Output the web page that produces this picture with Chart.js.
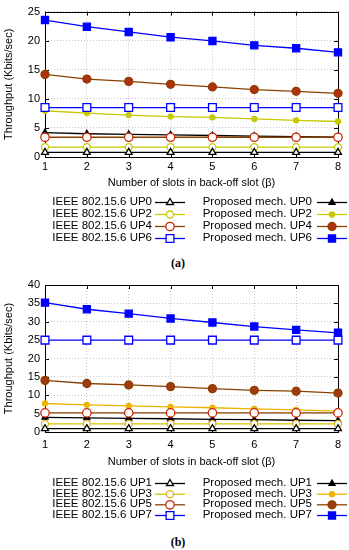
<!DOCTYPE html>
<html>
<head>
<meta charset="utf-8">
<script src="https://cdn.jsdelivr.net/npm/chart.js@4/dist/chart.umd.min.js"></script>
<style>
  body { margin: 0; background: #fff; width: 349px; height: 550px; position: relative; overflow: hidden; }
  .panel { position: absolute; left: 0; }
  .cap { position: absolute; left: 178px; transform: translate(-50%, -50%); font: bold 12px "Liberation Serif", serif; color: #000; }
</style>
</head>
<body>
<canvas id="chartA" class="panel" width="349" height="250" style="top:0"></canvas>
<div class="cap" style="top:263px">(a)</div>
<canvas id="chartB" class="panel" width="349" height="262" style="top:270px"></canvas>
<div class="cap" style="top:542px">(b)</div>

<script>
// x categories: number of slots in back-off slot
const slots = ['1', '2', '3', '4', '5', '6', '7', '8'];

// (a) even user priorities
const ieeeUP0 = [0.8, 0.8, 0.8, 0.8, 0.8, 0.8, 0.8, 0.8];
const ieeeUP2 = [1.7, 1.7, 1.7, 1.7, 1.7, 1.7, 1.7, 1.7];
const ieeeUP4 = [3.4, 3.4, 3.4, 3.4, 3.4, 3.4, 3.4, 3.4];
const ieeeUP6 = [8.5, 8.5, 8.5, 8.5, 8.5, 8.5, 8.5, 8.5];
const propUP0 = [4.2, 4.0, 3.9, 3.8, 3.7, 3.6, 3.5, 3.4];
const propUP2 = [7.95, 7.55, 7.2, 6.95, 6.8, 6.55, 6.3, 6.1];
const propUP4 = [14.2, 13.4, 13.0, 12.5, 12.05, 11.6, 11.3, 10.95];
const propUP6 = [23.55, 22.4, 21.5, 20.6, 19.95, 19.2, 18.7, 18.0];

// (b) odd user priorities
const ieeeUP1 = [0.9, 0.9, 0.9, 0.9, 0.9, 0.9, 0.9, 0.9];
const ieeeUP3 = [2.2, 2.2, 2.2, 2.2, 2.2, 2.2, 2.2, 2.2];
const ieeeUP5 = [5.2, 5.2, 5.2, 5.2, 5.2, 5.2, 5.2, 5.2];
const ieeeUP7 = [25, 25, 25, 25, 25, 25, 25, 25];
const propUP1 = [4.0, 3.85, 3.7, 3.6, 3.45, 3.35, 3.2, 3.1];
const propUP3 = [7.75, 7.4, 7.1, 6.85, 6.6, 6.3, 6.0, 5.7];
const propUP5 = [14.05, 13.2, 12.8, 12.35, 11.8, 11.35, 11.1, 10.6];
const propUP7 = [35.2, 33.4, 32.2, 30.9, 29.8, 28.7, 27.8, 27.0];

const yTicksA = { max: 25, step: 5 };
const yTicksB = { max: 40, step: 5 };

const FONT = '"Liberation Sans", Arial, sans-serif';

function series(label, data, line, mark, fill, style, r, row, col) {
    return {
        label: label,
        data: data,
        borderColor: line,
        borderWidth: 1.3,
        pointStyle: style,
        pointRadius: r,
        pointBorderColor: mark,
        pointBackgroundColor: fill,
        pointBorderWidth: 1.3,
        legendRow: row,
        legendCol: col,
        tension: 0
    };
}

// box, inward ticks and a gnuplot-like legend
const gnuplotFrame = {
    id: 'gnuplotFrame',
    beforeDatasetsDraw(chart) {
        const { ctx, chartArea: a, scales } = chart;
        ctx.save();
        ctx.strokeStyle = '#000';
        ctx.lineWidth = 1;
        ctx.beginPath();
        scales.x.ticks.forEach((t, i) => {
            const px = Math.round(scales.x.getPixelForTick(i)) + 0.5;
            ctx.moveTo(px, a.bottom); ctx.lineTo(px, a.bottom - 4);
            ctx.moveTo(px, a.top); ctx.lineTo(px, a.top + 4);
        });
        scales.y.ticks.forEach(t => {
            const py = Math.round(scales.y.getPixelForValue(t.value)) + 0.5;
            ctx.moveTo(a.left, py); ctx.lineTo(a.left + 4, py);
            ctx.moveTo(a.right, py); ctx.lineTo(a.right - 4, py);
        });
        ctx.stroke();
        ctx.strokeRect(Math.round(a.left) + 0.5, Math.round(a.top) + 0.5,
            Math.round(a.right - a.left), Math.round(a.bottom - a.top));
        ctx.restore();
    },
    afterDraw(chart, args, opts) {
        const ctx = chart.ctx;
        ctx.save();
        ctx.font = '11.5px ' + FONT;
        ctx.textAlign = 'right';
        ctx.textBaseline = 'middle';
        chart.data.datasets.forEach(ds => {
            const col = opts.cols[ds.legendCol];
            const y = opts.rows[ds.legendRow];
            ctx.fillStyle = '#000';
            ctx.fillText(ds.label, col.text, y);
            ctx.strokeStyle = ds.borderColor;
            ctx.lineWidth = ds.borderWidth;
            ctx.beginPath();
            ctx.moveTo(col.x0, y + 0.5);
            ctx.lineTo(col.x1, y + 0.5);
            ctx.stroke();
            ctx.strokeStyle = ds.pointBorderColor;
            ctx.fillStyle = ds.pointBackgroundColor;
            ctx.lineWidth = ds.pointBorderWidth;
            Chart.helpers.drawPoint(ctx, {
                pointStyle: ds.pointStyle,
                radius: ds.pointRadius,
                borderWidth: ds.pointBorderWidth,
                rotation: 0
            }, (col.x0 + col.x1) / 2, y + 0.5);
        });
        ctx.restore();
    }
};

function makeChart(id, datasets, yTicks, opt) {
    return new Chart(document.getElementById(id), {
        type: 'line',
        data: { labels: slots, datasets: datasets },
        plugins: [gnuplotFrame],
        options: {
            responsive: false,
            animation: false,
            layout: { padding: { top: opt.top, right: 11, bottom: opt.bottom, left: 0 } },
            plugins: {
                legend: { display: false },
                tooltip: { enabled: false },
                gnuplotFrame: {
                    rows: opt.rows,
                    cols: [
                        { text: 152, x0: 155, x1: 185 },
                        { text: 312, x0: 317, x1: 347 }
                    ]
                }
            },
            scales: {
                x: {
                    offset: false,
                    grid: { color: '#c8c8c8', lineWidth: 1, drawTicks: false },
                    border: { display: false, dash: [1, 2] },
                    ticks: { color: '#000', font: { family: FONT, size: 11 }, padding: opt.tickPad, maxRotation: 0 },
                    title: {
                        display: true,
                        text: 'Number of slots in back-off slot (β)',
                        color: '#000',
                        font: { family: FONT, size: 11 },
                        padding: { top: 0, bottom: 3 }
                    },
                    afterFit: s => { s.height = opt.xh; }
                },
                y: {
                    min: 0,
                    max: yTicks.max,
                    grid: { color: '#c8c8c8', lineWidth: 1, drawTicks: false },
                    border: { display: false, dash: [1, 2] },
                    ticks: { stepSize: yTicks.step, color: '#000', font: { family: FONT, size: 11 }, padding: 5 },
                    title: {
                        display: true,
                        text: 'Throughput (Kbits/sec)',
                        color: '#000',
                        font: { family: FONT, size: 11 },
                        padding: { top: 2, bottom: 0 }
                    },
                    afterFit: s => { s.width = 45; }
                }
            }
        }
    });
}

const BLACK = '#000000', BLUE = '#0000ff', BROWN = '#8b4000', RED = '#c82a08';

makeChart('chartA', [
    series('IEEE 802.15.6 UP0', ieeeUP0, BLACK, BLACK, '#fff', 'triangle', 4, 0, 0),
    series('IEEE 802.15.6 UP2', ieeeUP2, '#c8c800', '#c8c800', '#fff', 'circle', 3.5, 1, 0),
    series('IEEE 802.15.6 UP4', ieeeUP4, BROWN, RED, '#fff', 'circle', 4.2, 2, 0),
    series('IEEE 802.15.6 UP6', ieeeUP6, BLUE, BLUE, '#fff', 'rect', 5.5, 3, 0),
    series('Proposed mech. UP0', propUP0, BLACK, BLACK, BLACK, 'triangle', 3.5, 0, 1),
    series('Proposed mech. UP2', propUP2, '#c8c800', '#c8c800', '#c8c800', 'circle', 2.5, 1, 1),
    series('Proposed mech. UP4', propUP4, BROWN, BROWN, '#b03010', 'circle', 4, 2, 1),
    series('Proposed mech. UP6', propUP6, BLUE, BLUE, BLUE, 'rect', 5, 3, 1)
], yTicksA, { top: 8, bottom: 57, xh: 36, tickPad: 3, rows: [202, 214, 226, 238] });

makeChart('chartB', [
    series('IEEE 802.15.6 UP1', ieeeUP1, BLACK, BLACK, '#fff', 'triangle', 4, 0, 0),
    series('IEEE 802.15.6 UP3', ieeeUP3, '#d4c400', '#e0b020', '#fff', 'circle', 3.5, 1, 0),
    series('IEEE 802.15.6 UP5', ieeeUP5, BROWN, RED, '#fff', 'circle', 4.2, 2, 0),
    series('IEEE 802.15.6 UP7', ieeeUP7, BLUE, BLUE, '#fff', 'rect', 5.5, 3, 0),
    series('Proposed mech. UP1', propUP1, BLACK, BLACK, BLACK, 'triangle', 3.5, 0, 1),
    series('Proposed mech. UP3', propUP3, '#ecb400', '#ecb400', '#ecb400', 'circle', 2.5, 1, 1),
    series('Proposed mech. UP5', propUP5, BROWN, BROWN, '#a03a10', 'circle', 4, 2, 1),
    series('Proposed mech. UP7', propUP7, BLUE, BLUE, BLUE, 'rect', 5, 3, 1)
], yTicksB, { top: 15, bottom: 60, xh: 40, tickPad: 6, rows: [213, 223.7, 234.3, 245] });
</script>
</body>
</html>
